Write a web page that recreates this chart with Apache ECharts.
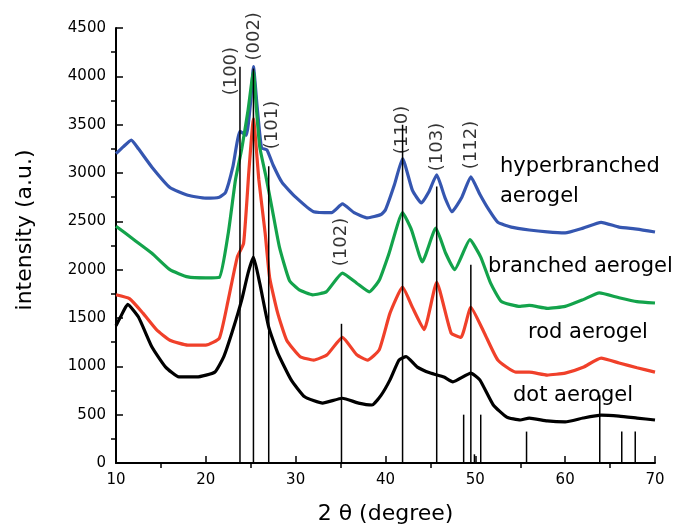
<!DOCTYPE html>
<html>
<head>
<meta charset="utf-8">
<script src="https://cdn.jsdelivr.net/npm/echarts@6/dist/echarts.min.js"></script>
<style>
  html, body { margin: 0; padding: 0; background: #fff; }
  #chart { width: 684px; height: 529px; }
</style>
</head>
<body>
<div id="chart"></div>
<script>
  // XRD patterns, [2theta, intensity]
  var hyperbranched = [[10,3200],[10.8,3270],[11.7,3340],[12.5,3250],[14,3060],[16,2850],[18,2770],[20,2740],[21.5,2750],[22.2,2800],[23,3060],[23.8,3430],[24.5,3390],[25,3750],[25.3,4100],[25.7,3700],[26.2,3260],[26.8,3240],[27.5,3080],[28.5,2900],[30,2750],[32,2600],[34,2590],[35.2,2680],[36.5,2590],[38,2535],[39.5,2570],[40,2620],[41,2880],[41.9,3150],[43,2820],[44,2690],[44.8,2800],[45.7,2980],[46.6,2750],[47.4,2600],[48.5,2750],[49.5,2960],[50.5,2780],[51.5,2620],[52.5,2490],[54,2440],[56,2410],[58,2390],[60,2380],[62,2430],[64,2490],[66,2440],[68,2420],[70,2390]];
  var branched = [[10,2450],[12,2310],[14,2170],[16,2000],[18,1925],[20,1915],[21.5,1920],[22.5,2380],[23.3,2930],[24,3250],[24.7,3650],[25.3,4050],[25.6,3700],[26,3270],[26.7,2960],[27.4,2620],[28.2,2230],[29.3,1890],[30.4,1790],[31.9,1740],[33.4,1770],[35.2,1965],[36.8,1860],[38.2,1770],[39.3,1890],[40.4,2170],[41.9,2590],[42.9,2410],[44.1,2080],[45.6,2430],[46.7,2170],[47.7,2000],[49.4,2310],[50.6,2130],[51.7,1860],[52.9,1670],[55,1620],[56,1630],[58,1600],[60,1620],[62,1690],[63.8,1760],[66,1710],[68,1670],[70,1655]];
  var rod = [[10,1740],[11.5,1700],[13,1550],[14.5,1380],[16,1270],[18,1220],[20,1220],[21.5,1290],[22.5,1690],[23.5,2130],[24.2,2270],[24.8,3030],[25.3,3560],[25.9,2930],[26.6,2380],[27.1,1920],[28,1550],[29,1270],[30.5,1100],[32,1065],[33.5,1120],[35.2,1300],[36.8,1120],[38,1065],[39.3,1170],[40.5,1550],[41.9,1820],[43,1610],[44.3,1380],[45.7,1870],[47.3,1345],[48.4,1300],[49.5,1610],[51,1345],[52.5,1065],[54.5,940],[56,940],[58,910],[60,930],[62,990],[64,1085],[66,1035],[68,985],[70,940]];
  var dot = [[10,1420],[10.5,1510],[11.3,1640],[12.5,1510],[14,1200],[15.5,995],[17,890],[19,890],[21,940],[22,1100],[23,1375],[24,1690],[24.7,1965],[25.3,2130],[26,1860],[27,1405],[28,1140],[29.5,860],[31,685],[33,620],[35.2,670],[37,620],[38.5,600],[39.5,700],[40.5,860],[41.5,1065],[42.3,1100],[43.5,995],[45,930],[46.5,890],[47.5,840],[49.5,930],[50.5,860],[52,600],[53.5,475],[55,445],[56,465],[58,435],[60,425],[62,465],[64,495],[66,485],[68,465],[70,445]];

  // reference pattern sticks
  var stickPos = [23.8, 25.3, 27.0, 35.1, 41.9, 45.7, 48.7, 49.5, 49.9, 50.6, 55.7, 63.85, 66.3, 67.8];
  var stickHeight = [4100, 4080, 3070, 1440, 3500, 2860, 500, 2050, 90, 500, 325, 700, 325, 325];

  // hkl labels and where they sit
  var hklNames = ['(100)', '(002)', '(101)', '(102)', '(110)', '(103)', '(112)'];
  var hklAt = [[22.8, 4054], [25.4, 4414], [27.4, 3497], [35.1, 2286], [41.9, 3445], [45.8, 3269], [49.6, 3290]];

  var xMajor = [10, 20, 30, 40, 50, 60, 70];
  var xMinor = [15, 25, 35, 45, 55, 65];
  var yMinor = [250, 750, 1250, 1750, 2250, 2750, 3250, 3750, 4250];

  var font = 'DejaVu Sans';
  let myChart = echarts.init(document.getElementById('chart'));

  function curve(name, data, color) {
    return {
      name: name,
      type: 'line',
      data: data,
      showSymbol: false,
      smooth: 0.15,
      lineStyle: { color: color, width: 3.2 },
      z: 2
    };
  }

  myChart.setOption({
    animation: false,
    grid: { left: 116, right: 29, top: 28, bottom: 66, outerBoundsMode: 'none' },
    xAxis: [{
      type: 'value', min: 10, max: 70, interval: 10,
      axisLine: { lineStyle: { color: '#000', width: 2 } },
      axisTick: { inside: true, length: 7, lineStyle: { color: '#000', width: 1.5 } },
      axisLabel: { color: '#000', fontFamily: font, fontSize: 15, margin: 10,
        customValues: xMajor },
      splitLine: { show: false },
      name: '2 θ (degree)', nameLocation: 'middle', nameGap: 40,
      nameTextStyle: { color: '#000', fontFamily: font, fontSize: 22 }
    }, {
      type: 'value', min: 10, max: 70, position: 'bottom',
      axisLine: { show: false },
      axisTick: { inside: false, length: 5, customValues: xMinor,
        lineStyle: { color: '#000', width: 1.5 } },
      axisLabel: { show: false },
      splitLine: { show: false }
    }],
    yAxis: [{
      type: 'value', min: 0, max: 4500, interval: 500,
      axisLine: { show: true, lineStyle: { color: '#000', width: 2 } },
      axisTick: { show: true, inside: true, length: 7, lineStyle: { color: '#000', width: 1.5 } },
      axisLabel: { color: '#000', fontFamily: font, fontSize: 15, margin: 10,
        formatter: function (v) { return String(v); } },
      splitLine: { show: false }
    }, {
      type: 'value', min: 0, max: 4500, position: 'left',
      axisLine: { show: false },
      axisTick: { show: true, inside: false, length: 5, customValues: yMinor,
        lineStyle: { color: '#000', width: 1.5 } },
      axisLabel: { show: false },
      splitLine: { show: false }
    }],
    graphic: [
      { type: 'text', x: 25, y: 230, rotation: Math.PI / 2,
        style: { text: 'intensity (a.u.)', font: '22px "DejaVu Sans"', fill: '#000',
          textAlign: 'center', textVerticalAlign: 'middle' } },
      { type: 'text', x: 500, y: 167,
        style: { text: 'hyperbranched', font: '21px "DejaVu Sans"', fill: '#000', textVerticalAlign: 'middle' } },
      { type: 'text', x: 500, y: 197,
        style: { text: 'aerogel', font: '21px "DejaVu Sans"', fill: '#000', textVerticalAlign: 'middle' } },
      { type: 'text', x: 488, y: 267,
        style: { text: 'branched aerogel', font: '21px "DejaVu Sans"', fill: '#000', textVerticalAlign: 'middle' } },
      { type: 'text', x: 528, y: 333,
        style: { text: 'rod aerogel', font: '21px "DejaVu Sans"', fill: '#000', textVerticalAlign: 'middle' } },
      { type: 'text', x: 513, y: 396,
        style: { text: 'dot aerogel', font: '21px "DejaVu Sans"', fill: '#000', textVerticalAlign: 'middle' } }
    ],
    series: [
      curve('hyperbranched aerogel', hyperbranched, '#3556b0'),
      curve('branched aerogel', branched, '#13a34b'),
      curve('rod aerogel', rod, '#f0402a'),
      curve('dot aerogel', dot, '#000000'),
      {
        type: 'custom',
        data: stickPos.map(function (p, i) { return [p, stickHeight[i]]; }),
        renderItem: function (params, api) {
          var p0 = api.coord([api.value(0), 0]);
          var p1 = api.coord([api.value(0), api.value(1)]);
          return {
            type: 'line',
            shape: { x1: p0[0], y1: p0[1], x2: p1[0], y2: p1[1] },
            style: { stroke: '#000', lineWidth: 1.5 }
          };
        },
        z: 3
      },
      {
        type: 'scatter',
        symbolSize: 0,
        data: hklAt.map(function (p, i) { return { name: hklNames[i], value: p }; }),
        label: {
          show: true, position: 'inside', rotate: 90, formatter: '{b}',
          color: '#000', fontFamily: font, fontSize: 18
        },
        z: 4
      }
    ]
  });
</script>
</body>
</html>
